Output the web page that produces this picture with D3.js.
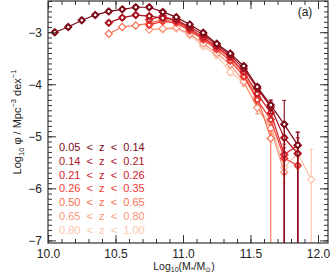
<!DOCTYPE html>
<html>
<head>
<meta charset="utf-8">
<script src="https://cdn.jsdelivr.net/npm/d3@7"></script>
<style>
body { margin: 0; background: #fff; }
text { font-family: "Liberation Sans", Arial, sans-serif; fill: #222; }
</style>
</head>
<body>
<div id="chart"></div>
<script>
// redshift bins, colours and the first mass bin of each
const zBins = ["0.05  <  z  <  0.14", "0.14  <  z  <  0.21", "0.21  <  z  <  0.26",
  "0.26  <  z  <  0.35", "0.50  <  z  <  0.65", "0.65  <  z  <  0.80", "0.80  <  z  <  1.00"];
const colors = ["#7c0a18", "#a8121f", "#d2202a", "#ec3c33", "#f7704f", "#fa9677", "#fdc4ab"];
const massStart = [10.05, 10.45, 10.75, 10.75, 10.45, 10.75, 10.85];
const massStep = 0.1;

// log10 phi per bin
const phi1 = [-3.00, -2.90, -2.77, -2.67, -2.60, -2.56, -2.52, -2.52, -2.61, -2.71, -2.85, -3.01, -3.22, -3.41, -3.65, -4.05, -4.40, -4.77, -5.17];
const phi2 = [-2.82, -2.72, -2.67, -2.69, -2.73, -2.76, -2.90, -3.05, -3.25, -3.44, -3.70, -4.08, -4.44, -5.03, -5.33];
const phi3 = [-2.76, -2.69, -2.78, -2.93, -3.10, -3.28, -3.48, -3.76, -4.18, -4.55, -5.35, -5.17];
const phi4 = [-2.86, -2.79, -2.82, -2.97, -3.14, -3.33, -3.55, -3.85, -4.30, -4.68, -5.42, -5.56];
const phi5 = [-3.03, -2.90, -2.87, -2.83, -2.76, -2.80, -2.95, -3.12, -3.30, -3.50, -3.80, -4.25, -5.04];
const phi6 = [-2.95, -2.93, -2.91, -3.03, -3.22, -3.40, -3.62, -3.95, -4.45, -4.85, -5.69];
const phi7 = [-2.95, -2.93, -3.06, -3.27, -3.44, -3.77, -3.96, -4.44, -4.75, -5.60, -5.33, -5.83];

// upper / lower errors (a lower error of 3 means the bar runs off the bottom)
const errHi1 = [.02, .02, .02, .02, .02, .02, .02, .02, .02, .02, .02, .02, .03, .03, .04, .05, .10, .46, .25];
const errLo1 = [.02, .02, .02, .02, .02, .02, .02, .02, .02, .02, .02, .02, .03, .03, .04, .05, .10, 3, 3];
const errHi2 = [.02, .02, .02, .02, .02, .02, .02, .03, .03, .04, .05, .06, .12, .25, .30];
const errLo2 = [.02, .02, .02, .02, .02, .02, .02, .03, .03, .04, .05, .06, .12, 3, 3];
const errHi3 = [.03, .03, .03, .03, .03, .03, .04, .05, .06, .10, .20, .25];
const errLo3 = [.03, .03, .03, .03, .03, .03, .04, .05, .06, .10, 3, 3];
const errHi4 = [.03, .03, .03, .03, .03, .03, .04, .05, .06, .10, .20, .25];
const errLo4 = [.03, .03, .03, .03, .03, .03, .04, .05, .06, .10, .30, 3];
const errHi5 = [.03, .03, .03, .03, .03, .03, .04, .05, .06, .08, .10, .15, .15];
const errLo5 = [.03, .03, .03, .03, .03, .03, .04, .05, .06, .08, .10, .15, 3];
const errHi6 = [.04, .04, .04, .04, .04, .05, .06, .08, .12, .15, .25];
const errLo6 = [.04, .04, .04, .04, .04, .05, .06, .08, .12, .15, 3];
const errHi7 = [.04, .04, .04, .05, .06, .06, .08, .12, .20, .30, .30, .58];
const errLo7 = [.04, .04, .04, .05, .06, .06, .08, .12, .20, .30, .30, 3];

const phis = [phi1, phi2, phi3, phi4, phi5, phi6, phi7];
const errHis = [errHi1, errHi2, errHi3, errHi4, errHi5, errHi6, errHi7];
const errLos = [errLo1, errLo2, errLo3, errLo4, errLo5, errLo6, errLo7];

const xMajor = [10.0, 10.5, 11.0, 11.5, 12.0];
const yMajor = [-3, -4, -5, -6, -7];

const width = 331, height = 275;
const plot = { left: 48, right: 328, top: 1, bottom: 243 };

const svg = d3.select("#chart").append("svg")
  .attr("width", width)
  .attr("height", height);

const x = d3.scaleLinear().domain([10.0, 12.074]).range([plot.left, plot.right]);
const y = d3.scaleLinear().domain([-7.05, -2.4]).range([plot.bottom, plot.top]);

svg.append("clipPath").attr("id", "clip")
  .append("rect")
  .attr("x", plot.left).attr("y", plot.top)
  .attr("width", plot.right - plot.left).attr("height", plot.bottom - plot.top);

// build the series
let series = phis.map((p, s) => p.map((v, i) => ({
  m: massStart[s] + i * massStep,
  phi: v,
  hi: errHis[s][i],
  lo: errLos[s][i]
})));

let line = d3.line().x(d => x(d.m)).y(d => y(d.phi));
let diamond = (cx, cy, r) => `M${cx},${cy - r}L${cx + r},${cy}L${cx},${cy + r}L${cx - r},${cy}Z`;

let marks = svg.append("g").attr("clip-path", "url(#clip)");

// draw from highest z to lowest so the dark curves sit on top
for (let s = series.length - 1; s >= 0; s--) {
  let g = marks.append("g");
  let c = colors[s];

  g.selectAll("line.err")
    .data(series[s])
    .enter().append("line")
    .attr("x1", d => x(d.m)).attr("x2", d => x(d.m))
    .attr("y1", d => y(d.phi + d.hi)).attr("y2", d => y(d.phi - d.lo))
    .attr("stroke", c).attr("stroke-width", 1.1);

  g.selectAll("line.cap")
    .data(series[s].flatMap(d => [d.phi + d.hi, d.phi - d.lo].map(v => ({ m: d.m, v: v }))))
    .enter().append("line")
    .attr("x1", d => x(d.m) - 2).attr("x2", d => x(d.m) + 2)
    .attr("y1", d => y(d.v)).attr("y2", d => y(d.v))
    .attr("stroke", c).attr("stroke-width", 1);

  g.append("path")
    .datum(series[s])
    .attr("d", line)
    .attr("fill", "none")
    .attr("stroke", c)
    .attr("stroke-width", 1.2);

  g.selectAll("path.pt")
    .data(series[s])
    .enter().append("path")
    .attr("d", d => diamond(x(d.m), y(d.phi), 3.6))
    .attr("fill", "#fff")
    .attr("stroke", c)
    .attr("stroke-width", 1.2);

  if (s < 4) {
    g.selectAll("circle")
      .data(series[s])
      .enter().append("circle")
      .attr("cx", d => x(d.m)).attr("cy", d => y(d.phi))
      .attr("r", 2.1)
      .attr("fill", "none")
      .attr("stroke", c)
      .attr("stroke-width", 1.6);
  }
}

// axes: box with inward ticks on every side
let xMinor = d3.range(100, 121).map(v => v / 10);
let yMinor = d3.range(-70, -23).map(v => v / 10);
let axisColor = "#333";

function styleAxis(g) {
  g.select(".domain").remove();
  g.selectAll("line").attr("stroke", axisColor);
  g.selectAll("text").attr("font-size", 12).attr("fill", "#222")
    .style("font-family", '"Liberation Sans", Arial, sans-serif');
}

svg.append("g").attr("transform", `translate(0,${plot.bottom})`)
  .call(d3.axisBottom(x).tickValues(xMinor).tickSize(-4).tickFormat("")).call(styleAxis);
svg.append("g").attr("transform", `translate(0,${plot.bottom})`)
  .call(d3.axisBottom(x).tickValues(xMajor).tickSize(-8).tickPadding(6).tickFormat(d3.format(".1f"))).call(styleAxis);
svg.append("g").attr("transform", `translate(0,${plot.top})`)
  .call(d3.axisTop(x).tickValues(xMinor).tickSize(-4).tickFormat("")).call(styleAxis);
svg.append("g").attr("transform", `translate(0,${plot.top})`)
  .call(d3.axisTop(x).tickValues(xMajor).tickSize(-8).tickFormat("")).call(styleAxis);

svg.append("g").attr("transform", `translate(${plot.left},0)`)
  .call(d3.axisLeft(y).tickValues(yMinor).tickSize(-4).tickFormat("")).call(styleAxis);
svg.append("g").attr("transform", `translate(${plot.left},0)`)
  .call(d3.axisLeft(y).tickValues(yMajor).tickSize(-8).tickPadding(6).tickFormat(d => "\u2212" + Math.abs(d))).call(styleAxis);
svg.append("g").attr("transform", `translate(${plot.right},0)`)
  .call(d3.axisRight(y).tickValues(yMinor).tickSize(-4).tickFormat("")).call(styleAxis);
svg.append("g").attr("transform", `translate(${plot.right},0)`)
  .call(d3.axisRight(y).tickValues(yMajor).tickSize(-8).tickFormat("")).call(styleAxis);

svg.append("rect")
  .attr("x", plot.left).attr("y", plot.top)
  .attr("width", plot.right - plot.left).attr("height", plot.bottom - plot.top)
  .attr("fill", "none").attr("stroke", axisColor).attr("stroke-width", 1.2);

// legend
svg.append("g").selectAll("text")
  .data(zBins)
  .enter().append("text")
  .attr("x", 59)
  .attr("y", (d, i) => 151 + i * 13.8)
  .attr("font-size", 11)
  .style("white-space", "pre")
  .style("fill", (d, i) => colors[i])
  .text(d => d);

svg.append("text")
  .attr("x", 305).attr("y", 16)
  .attr("text-anchor", "middle")
  .attr("font-size", 12)
  .text("(a)");

// axis titles
let xt = svg.append("text")
  .attr("x", 184).attr("y", 270)
  .attr("text-anchor", "middle")
  .attr("font-size", 10.5);
xt.append("tspan").text("Log");
xt.append("tspan").attr("font-size", 7).attr("dy", 2).text("10");
xt.append("tspan").attr("dy", -2).text("(M");
xt.append("tspan").attr("font-size", 7).attr("dy", 2).text("*");
xt.append("tspan").attr("dy", -2).text("/M");
xt.append("tspan").attr("font-size", 7).attr("dy", 2).text("\u2299");
xt.append("tspan").attr("dy", -2).text(")");

let yt = svg.append("text")
  .attr("transform", `translate(21,${(plot.top + plot.bottom) / 2}) rotate(-90)`)
  .attr("text-anchor", "middle")
  .attr("font-size", 11);
yt.append("tspan").text("Log");
yt.append("tspan").attr("font-size", 7.5).attr("dy", 3).text("10");
yt.append("tspan").attr("dy", -3).text(" \u03c6 / Mpc");
yt.append("tspan").attr("font-size", 7.5).attr("dy", -5).text("\u22123");
yt.append("tspan").attr("dy", 5).text(" dex");
yt.append("tspan").attr("font-size", 7.5).attr("dy", -5).text("\u22121");
</script>
</body>
</html>
